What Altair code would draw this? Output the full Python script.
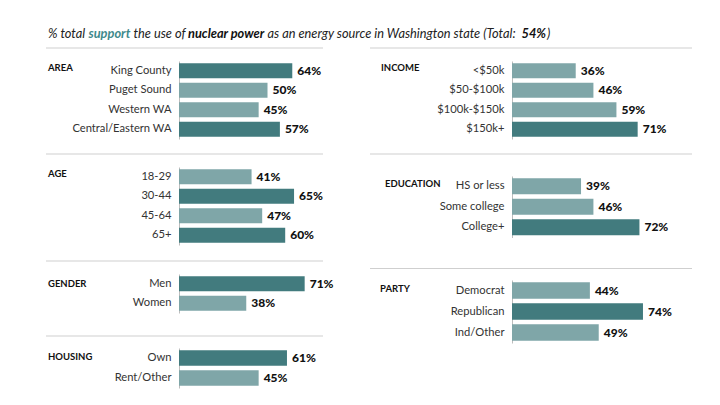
import altair as alt
import pandas as pd

FONT = "Lato"
DARK = "#427b7e"
LIGHT = "#7fa6a8"

# ---- title pieces ----
title_parts = ["% total", "support", "the use of", "nuclear power",
               "as an energy source in Washington state (Total:", "54%", ")"]
title_weights = ["normal", "bold", "normal", "bold", "normal", "bold", "normal"]
title_colors = ["#222222", "#3f8a8c", "#222222", "#111111", "#222222", "#111111", "#222222"]
title_x = [-131, -90.5, -45.5, 9, 88.5, 342.5, 368]

# ---- data ----
area_cats = ["King County", "Puget Sound", "Western WA", "Central/Eastern WA"]
area_vals = [64, 50, 45, 57]
area_shade = ["dark", "light", "light", "dark"]

age_cats = ["18-29", "30-44", "45-64", "65+"]
age_vals = [41, 65, 47, 60]
age_shade = ["light", "dark", "light", "dark"]

gender_cats = ["Men", "Women"]
gender_vals = [71, 38]
gender_shade = ["dark", "light"]

housing_cats = ["Own", "Rent/Other"]
housing_vals = [61, 45]
housing_shade = ["dark", "light"]

income_cats = ["<$50k", "$50-$100k", "$100k-$150k", "$150k+"]
income_vals = [36, 46, 59, 71]
income_shade = ["light", "light", "light", "dark"]

edu_cats = ["HS or less", "Some college", "College+"]
edu_vals = [39, 46, 72]
edu_shade = ["light", "light", "dark"]

party_cats = ["Democrat", "Republican", "Ind/Other"]
party_vals = [44, 74, 49]
party_shade = ["light", "dark", "light"]

PW = 177  # plot width (0..100%)


def panel(group, cats, vals, shades, height, label_x, label_dy=-2):
    df = pd.DataFrame({"category": cats, "value": vals, "shade": shades,
                       "label": [f"{v}%" for v in vals]})
    y = alt.Y("category:N", sort=cats, title=None,
              scale=alt.Scale(paddingInner=0.22, paddingOuter=0.11),
              axis=alt.Axis(ticks=False, domainColor="#bdbdbd", domainWidth=1,
                            labelPadding=8, labelFontSize=11.2, labelColor="#333333",
                            labelFont=FONT, labelLimit=250, grid=False))
    x = alt.X("value:Q", scale=alt.Scale(domain=[0, 100]), axis=None)
    bars = alt.Chart(df).mark_bar().encode(
        x=x, y=y,
        color=alt.Color("shade:N", scale=alt.Scale(domain=["dark", "light"], range=[DARK, LIGHT]),
                        legend=None))
    txt = alt.Chart(df).mark_text(align="left", baseline="middle", dx=5, font=FONT,
                                  fontWeight=900, fontSize=12, color="#111111").encode(
        x=x, y=y, text="label:N")
    gdf = pd.DataFrame({"category": [cats[0]], "group": [group]})
    g = alt.Chart(gdf).mark_text(align="left", baseline="middle", dy=label_dy, font=FONT,
                                 fontWeight="bold", fontSize=9.5, color="#111111").encode(
        x=alt.value(label_x), y=y, text="group:N")
    return alt.layer(bars, txt, g).properties(width=PW, height=height)


def spacer(height, rule_y, x1, x2):
    return alt.Chart(pd.DataFrame({"s": [0]})).mark_rule(color="#cfcfcf", strokeWidth=1).encode(
        x=alt.value(x1), x2=alt.value(x2), y=alt.value(rule_y)).properties(width=PW, height=height)


left = alt.vconcat(
    spacer(13, 0, -133, 144),
    panel("AREA", area_cats, area_vals, area_shade, 78, -131, -3),
    spacer(28, 15, -133, 144),
    panel("AGE", age_cats, age_vals, age_shade, 78, -131, -3),
    spacer(29, 16, -133, 144),
    panel("GENDER", gender_cats, gender_vals, gender_shade, 39, -131, 0),
    spacer(35, 23, -133, 144),
    panel("HOUSING", housing_cats, housing_vals, housing_shade, 40, -131, -1),
    spacing=0, bounds="flush")

right = alt.vconcat(
    spacer(13, 0, -142, 180),
    panel("INCOME", income_cats, income_vals, income_shade, 78, -131, -3),
    spacer(37, 15, -142, 180),
    panel("EDUCATION", edu_cats, edu_vals, edu_shade, 61.5, -127, -2),
    spacer(42, 30.5, -142, 180),
    panel("PARTY", party_cats, party_vals, party_shade, 63, -132, -2),
    spacing=0, bounds="flush")

title_layers = [
    alt.Chart(pd.DataFrame({"t": [t]})).mark_text(
        align="left", baseline="middle", font=FONT, fontStyle="italic", fontWeight=w,
        fontSize=12.8, color=c).encode(x=alt.value(xp), y=alt.value(7), text="t:N")
    for t, w, c, xp in zip(title_parts, title_weights, title_colors, title_x)
]
title = alt.layer(*title_layers).properties(width=PW, height=14)

chart = alt.vconcat(
    title,
    alt.hconcat(left, right, spacing=13),
    spacing=6,
).properties(
    padding={"left": 37, "top": 19, "right": 5, "bottom": 5}
).configure(font=FONT).configure_view(stroke=None)

chart.save("out.html", embed_options={"renderer": "svg", "actions": False})
